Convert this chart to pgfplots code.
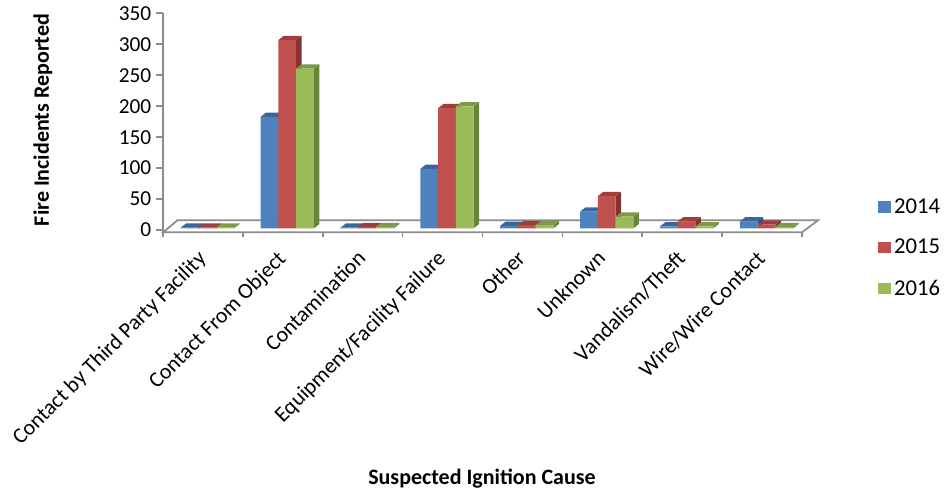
\documentclass[border=0pt]{standalone}
\usepackage{pgfplots}
\usepackage{pgfplotstable}
\usepackage{fontspec}
\setmainfont{Carlito}
\pgfplotsset{compat=1.18}
\definecolor{bluef}{HTML}{4F81BD}\definecolor{blues}{HTML}{2F5280}\definecolor{bluet}{HTML}{3C6698}
\definecolor{redf}{HTML}{C0504D}\definecolor{reds}{HTML}{843331}\definecolor{redt}{HTML}{9C3F3C}
\definecolor{greenf}{HTML}{9BBB59}\definecolor{greens}{HTML}{6B8339}\definecolor{greent}{HTML}{7D9A46}
\definecolor{axisgray}{HTML}{8C8C8C}
\pgfplotstableread{
cause v14 v15 v16
0 1 1 1
1 180 304 258
2 1 2 2
3 96 194 197
4 4 5 5
5 27 52 19
6 3 11 3
7 11 6 2
}\fires
\newcommand\faces[5]{%
 \pgfmathsetmacro\xl{#1-0.1114}\pgfmathsetmacro\xr{#1+0.1114}%
 \pgfmathsetmacro\xlb{\xl+0.069}\pgfmathsetmacro\xrb{\xr+0.069}%
 \pgfmathsetmacro\vb{#2+6.95}%
 \addplot[fill=#3,draw=none,forget plot] coordinates {(\xr,0)(\xrb,6.95)(\xrb,\vb)(\xr,#2)} --cycle;
 \addplot[fill=#4,draw=none,forget plot] coordinates {(\xl,#2)(\xlb,\vb)(\xrb,\vb)(\xr,#2)} --cycle;
}
\newcommand\seriesfaces[4]{% column, shift, side, top
 \foreach \i in {0,...,7}{%
  \pgfplotstablegetelem{\i}{#1}\of\fires
  \edef\val{\pgfplotsretval}%
  \pgfmathsetmacro\cx{\i+0.555+(#2)*0.2228}%
  \faces{\cx}{\val}{#3}{#4}{}%
 }%
}
\begin{document}
\begin{tikzpicture}
\path[use as bounding box] (0,0) rectangle (708.75pt,369.75pt);
\begin{axis}[
 at={(122.25pt,195.5pt)},anchor=south west,
 scale only axis,width=479.25pt,height=164.25pt,
 xmin=0,xmax=8,ymin=-6.46,ymax=347.25,clip=false,
 axis x line*=bottom,axis y line*=left,
 axis line style={draw=axisgray,line width=1.3pt,-},
 tick align=outside,tick pos=left,
 major tick length=5.25pt,
 xtick={0.5,1.5,2.5,3.5,4.5,5.5,6.5,7.5},
 xticklabels={Contact by Third Party Facility,Contact From Object,Contamination,Equipment/Facility Failure,Other,Unknown,Vandalism/Theft,Wire/Wire Contact},
 major x tick style={draw=none},
 x tick label style={rotate=45,anchor=north east,font=\fontsize{16.4pt}{18pt}\selectfont,yshift=-0.5pt,xshift=-7.5pt,inner sep=1pt},
 major y tick style={draw=axisgray,line width=1.3pt},
 ytick={-2.75,47.25,97.25,147.25,197.25,247.25,297.25,347.25},
 yticklabels={0,50,100,150,200,250,300,350},
 y tick label style={font=\fontsize{16pt}{18pt}\selectfont},
 xlabel={Suspected Ignition Cause},
 ylabel={Fire Incidents Reported},
 xlabel style={at={(axis description cs:0.4992,-1.1265)},anchor=center,font=\bfseries\fontsize{16.5pt}{18pt}\selectfont},
 ylabel style={at={(axis description cs:-0.188,0.513)},anchor=center,font=\bfseries\fontsize{16.5pt}{18pt}\selectfont},
 legend style={at={(axis description cs:1.1125,-0.07)},anchor=west,draw=none,fill=none,row sep=14pt,font=\fontsize{17pt}{19pt}\selectfont},
 legend cell align=left,
 legend image code/.code={\fill[#1] (0pt,-4.5pt) rectangle (10pt,4pt);},
 unbounded coords=jump,
]
\addplot[draw=axisgray,line width=1.3pt,fill=white,forget plot] coordinates {(0,-6.46)(0.18,12.9)(8.2,12.9)(8,-6.46)} --cycle;
\addplot[draw=axisgray,line width=1.3pt,forget plot] coordinates {(0,-6.46)(0,-14)(0,nan)(1,-6.46)(1,-14)(1,nan)(2,-6.46)(2,-14)(2,nan)(3,-6.46)(3,-14)(3,nan)(4,-6.46)(4,-14)(4,nan)(5,-6.46)(5,-14)(5,nan)(6,-6.46)(6,-14)(6,nan)(7,-6.46)(7,-14)(7,nan)(8,-6.46)(8,-14)};
\seriesfaces{v14}{-1}{blues}{bluet}
\addplot[ybar,bar width=13.35pt,bar shift=-13.35pt,fill=bluef,draw=none] table[x expr=\coordindex+0.555,y=v14]{\fires};
\seriesfaces{v15}{0}{reds}{redt}
\addplot[ybar,bar width=13.35pt,bar shift=0pt,fill=redf,draw=none] table[x expr=\coordindex+0.555,y=v15]{\fires};
\seriesfaces{v16}{1}{greens}{greent}
\addplot[ybar,bar width=13.35pt,bar shift=13.35pt,fill=greenf,draw=none] table[x expr=\coordindex+0.555,y=v16]{\fires};
\legend{2014,2015,2016}
\end{axis}
\end{tikzpicture}
\end{document}
